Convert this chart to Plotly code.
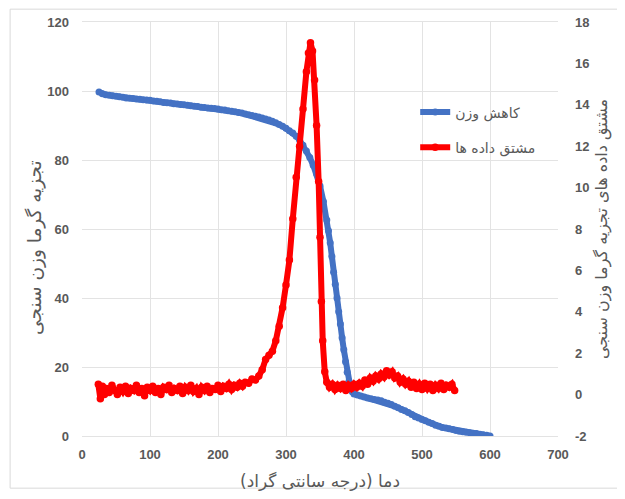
import plotly.graph_objects as go

# ---- data ----
tga_temp = [25,30,35,40,45,50,55,60,65,70,75,80,85,90,95,100,105,110,115,120,125,130,135,140,145,150,
            155,160,165,170,175,180,185,190,195,200,205,210,215,220,225,230,235,240,245,250,255,260,265,
            270,275,280,285,290,295,300,305,310,315,320,325,330,335,340,345,350,355,360,362.5,365,367.5,
            370,372.5,375,377.5,380,382.5,385,387.5,390,392.5,395,397.5,400,405,410,415,420,425,430,435,
            440,445,450,455,460,465,470,475,480,485,490,495,500,505,510,515,520,525,530,535,540,545,550,
            555,560,565,570,575,580,585,590,595,600]
tga_weight = [99.7,99.2,98.9,98.8,98.6,98.5,98.3,98.2,98.0,97.9,97.8,97.7,97.6,97.5,97.4,97.3,97.1,97.0,
              96.9,96.7,96.6,96.5,96.3,96.2,96.1,96.0,95.9,95.7,95.6,95.5,95.3,95.2,95.1,95.0,94.9,94.8,
              94.6,94.5,94.3,94.1,94.0,93.8,93.6,93.3,93.1,92.9,92.7,92.5,92.2,91.9,91.6,91.2,90.8,90.3,
              89.8,89.2,88.5,87.8,86.9,85.8,84.3,82.6,80.7,78.5,76.0,72.5,68.0,62.6,59.5,56.0,52.0,47.5,
              44.0,40.0,36.0,32.5,28.5,25.0,21.5,18.5,15.8,13.8,12.8,12.2,11.9,11.6,11.3,11.0,10.8,10.6,
              10.4,10.2,9.8,9.5,9.1,8.6,8.2,7.7,7.3,6.8,6.2,5.6,5.2,4.8,4.4,4.0,3.6,3.1,2.8,2.5,2.3,2.1,
              1.9,1.6,1.4,1.25,1.1,0.95,0.8,0.7,0.5,0.35,0.2,0.0]

dtg_temp = [24,27,30,33,36,40,44,48,52,56,60,64,68,72,76,80,84,88,92,96,100,104,108,112,116,120,124,128,
            132,136,140,144,148,152,156,160,164,168,172,176,180,184,188,192,196,200,204,208,212,216,220,
            224,228,232,236,240,245,250,255,260,265,270,275,280,285,290,295,300,305,310,315,320,325,330,
            333,336,339,342,345,348,350,352,354,357,360,364,368,372,376,380,384,388,392,396,400,404,408,
            412,416,420,424,428,432,436,440,444,448,452,456,460,464,468,472,476,480,484,488,492,496,500,
            504,508,512,516,520,524,528,532,536,540,544,548]
dtg_value = [0.5,-0.2,0.4,0.0,0.3,0.1,0.45,0.2,0.0,0.35,0.15,0.4,0.05,0.3,0.2,0.45,0.1,0.3,-0.05,0.35,
             0.2,0.4,0.1,0.3,0.0,0.35,0.25,0.45,0.1,0.3,0.2,0.4,0.05,0.35,0.2,0.45,0.15,0.3,0.0,0.35,
             0.2,0.4,0.1,0.3,0.25,0.45,0.15,0.4,0.3,0.5,0.25,0.45,0.35,0.55,0.4,0.6,0.55,0.75,0.7,0.9,
             1.2,1.7,1.9,2.1,2.6,3.3,4.2,5.3,6.5,8.5,10.5,12.0,13.8,15.6,16.5,17.0,16.6,15.2,13.0,10.3,
             7.6,4.5,2.6,1.1,0.6,0.35,0.5,0.25,0.45,0.3,0.5,0.2,0.45,0.3,0.5,0.35,0.55,0.4,0.7,0.5,0.8,
             0.65,0.9,0.75,1.0,0.85,1.15,0.95,1.1,0.8,0.9,0.6,0.75,0.5,0.65,0.35,0.6,0.3,0.5,0.25,0.55,
             0.3,0.5,0.2,0.45,0.3,0.55,0.25,0.45,0.35,0.5,0.2,0.4,0.35]

x_ticks = [0, 100, 200, 300, 400, 500, 600, 700]
left_ticks = [0, 20, 40, 60, 80, 100, 120]
right_ticks = [-2, 0, 2, 4, 6, 8, 10, 12, 14, 16, 18]
right_tick_labels = ["-2", "0", "2", "4", "6", "8", "10", "12", "14", "16", "18"]

name_tga = "کاهش وزن"
name_dtg = "مشتق داده ها"
title_x = "دما (درجه سانتی گراد)"
title_y1 = "تجزیه گرما وزن سنجی"
title_y2 = "مشتق داده های تجزیه گرما وزن سنجی"

GRAY = "#595959"
GRID = "#e3e3e3"
FONT = "Liberation Sans, DejaVu Sans, sans-serif"
AFONT = "DejaVu Sans, sans-serif"

fig = go.Figure()
fig.add_trace(go.Scatter(
    x=tga_temp, y=tga_weight, name=name_tga, mode="lines+markers",
    line=dict(color="#4472C4", width=6), marker=dict(color="#4472C4", size=7),
    legendgroup="a", yaxis="y"))
fig.add_trace(go.Scatter(
    x=dtg_temp, y=dtg_value, name=name_dtg, mode="lines+markers",
    line=dict(color="#FF0000", width=6), marker=dict(color="#FF0000", size=7.5),
    legendgroup="b", yaxis="y2"))

tickfont = dict(family=FONT, size=13, color=GRAY, weight="bold")

# the page has an 8px body margin, so the figure is sized/placed to compensate
fig.update_layout(
    width=617, height=491,
    margin=dict(l=74, r=67, t=14, b=63, autoexpand=False),
    paper_bgcolor="white", plot_bgcolor="white",
    showlegend=True,
    legend=dict(x=0.70, y=0.82, xanchor="left", yanchor="top",
                font=dict(family=AFONT, size=14, color=GRAY),
                tracegroupgap=14, bgcolor="rgba(0,0,0,0)"),
    xaxis=dict(range=[0, 700], tickvals=x_ticks, showgrid=True, gridcolor=GRID,
               zeroline=False, showline=True, linecolor=GRID, mirror=True,
               tickfont=tickfont, ticks="", automargin=False, ticklabelstandoff=6,
               title=dict(text=title_x, font=dict(family=AFONT, size=17, color=GRAY),
                          standoff=14)),
    yaxis=dict(range=[0, 120], tickvals=left_ticks, showgrid=True, gridcolor=GRID,
               zeroline=False, showline=False, tickfont=tickfont, ticks="", automargin=False,
               ticklabelstandoff=12),
    yaxis2=dict(range=[-2, 18], tickvals=right_ticks, ticktext=right_tick_labels,
                overlaying="y", side="right", automargin=False, ticklabelstandoff=16,
                showgrid=False, zeroline=False, tickfont=tickfont, ticks="",
                title=dict(text=title_y2, font=dict(family=AFONT, size=16, color=GRAY), standoff=6)),
)

# left axis title (placed like the reference, slightly below the plot centre)
fig.add_annotation(text=title_y1, xref="paper", yref="paper", x=-0.099, y=0.454,
                   textangle=-90, showarrow=False, xanchor="center", yanchor="middle",
                   font=dict(family=AFONT, size=18.5, color=GRAY))

# outer chart border
fig.add_shape(type="rect", xref="paper", yref="paper",
              x0=-0.151, x1=1.139, y0=-0.126, y1=1.031,
              line=dict(color="#d9d9d9", width=1), layer="below")

fig.write_html("out.html")
